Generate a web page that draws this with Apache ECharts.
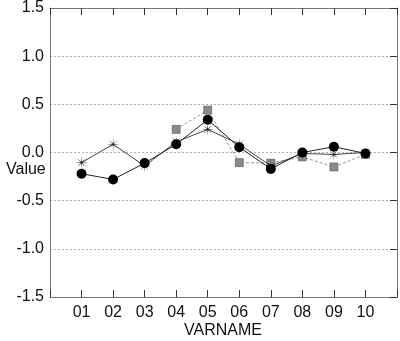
<!DOCTYPE html>
<html>
<head>
<meta charset="utf-8">
<script src="https://cdn.jsdelivr.net/npm/echarts@6/dist/echarts.min.js"></script>
<style>
  html, body { margin: 0; padding: 0; background: #fff; }
  #chart { width: 400px; height: 341px; }
</style>
</head>
<body>
<div id="chart"></div>
<script>
// Category codes along the horizontal axis
const categories = ['01', '02', '03', '04', '05', '06', '07', '08', '09', '10'];
// Values per variable for the three profiles
const circleValues   = [-0.22, -0.28, -0.11, 0.085, 0.34, 0.055, -0.17, 0.0, 0.06, -0.01];
const asteriskValues = [-0.105, 0.085, -0.14, 0.11, 0.24, 0.085, -0.14, -0.01, -0.02, 0.0];
const squareValues   = [null, null, null, 0.24, 0.44, -0.105, -0.11, -0.045, -0.15, -0.02];
// Vertical tick labels
const yTicks = [-1.5, -1.0, -0.5, 0.0, 0.5, 1.0, 1.5];

// Thin eight-spoke star used as an asterisk marker
function asteriskPath() {
  const pts = [];
  const n = 8, outer = 10, inner = 1.3;
  for (let i = 0; i < n * 2; i++) {
    const r = i % 2 === 0 ? outer : inner;
    const a = Math.PI * i / n - Math.PI / 2;
    pts.push((10 + r * Math.cos(a)).toFixed(2) + ' ' + (10 + r * Math.sin(a)).toFixed(2));
  }
  return 'path://M' + pts.join(' L') + ' Z';
}

// Position index 1..n for each category on a 0..n+1 scale
const toPoints = vals => vals.map((v, i) => [i + 1, v]);

const frameColor = '#777';
const fontFamily = '"Liberation Sans", Arial, Helvetica, sans-serif';

const chart = echarts.init(document.getElementById('chart'), null, { renderer: 'canvas' });

const xCommon = {
  type: 'value',
  min: 0,
  max: categories.length + 1,
  interval: 1,
  axisLine: { show: true, onZero: false, lineStyle: { color: frameColor, width: 1 } },
  axisTick: { show: true, inside: true, length: 7, lineStyle: { color: '#333', width: 1 } },
  splitLine: { show: false }
};

const yCommon = {
  type: 'value',
  min: yTicks[0],
  max: yTicks[yTicks.length - 1],
  interval: 0.5,
  axisLine: { show: true, onZero: false, lineStyle: { color: frameColor, width: 1 } },
  axisTick: { show: true, inside: true, length: 7, lineStyle: { color: '#333', width: 1 } }
};

chart.setOption({
  animation: false,
  backgroundColor: '#fff',
  title: [
    { text: 'Value', left: 1, top: 157, textStyle: { fontFamily, fontSize: 16, fontWeight: 'normal', color: '#111' } },
    { text: 'VARNAME', left: 179, top: 318, textStyle: { fontFamily, fontSize: 16, fontWeight: 'normal', color: '#111' } }
  ],
  grid: { left: 50, right: 1, top: 5, bottom: 44, containLabel: false },
  xAxis: [
    Object.assign({}, xCommon, {
      position: 'bottom',
      axisLabel: {
        show: true, margin: 8, fontFamily, fontSize: 16, color: '#111',
        formatter: v => (v >= 1 && v <= categories.length) ? categories[v - 1] : ''
      }
    }),
    Object.assign({}, xCommon, { position: 'top', axisLabel: { show: false } })
  ],
  yAxis: [
    Object.assign({}, yCommon, {
      position: 'left',
      axisTick: { show: false },
      axisLabel: { show: true, margin: 6, fontFamily, fontSize: 16, color: '#111', formatter: v => v.toFixed(1) },
      splitLine: { show: true, lineStyle: { color: '#b0b0b0', type: [2, 2], width: 1 } }
    }),
    Object.assign({}, yCommon, { position: 'right', axisLabel: { show: false }, splitLine: { show: false } })
  ],
  series: [
    {
      name: 'squares', type: 'line', data: toPoints(squareValues), connectNulls: false,
      symbol: 'rect', symbolSize: 8,
      lineStyle: { color: '#999', width: 1, type: [3, 2] },
      itemStyle: { color: '#8a8a8a', borderColor: '#555', borderWidth: 0.6 },
      z: 2
    },
    {
      name: 'asterisks', type: 'line', data: toPoints(asteriskValues),
      symbol: asteriskPath(), symbolSize: 13,
      lineStyle: { color: '#444', width: 1 },
      itemStyle: { color: '#222', borderWidth: 0 },
      z: 3
    },
    {
      name: 'circles', type: 'line', data: toPoints(circleValues),
      symbol: 'circle', symbolSize: 10,
      lineStyle: { color: '#222', width: 1 },
      itemStyle: { color: '#000', borderWidth: 0 },
      z: 4
    }
  ]
});
</script>
</body>
</html>
